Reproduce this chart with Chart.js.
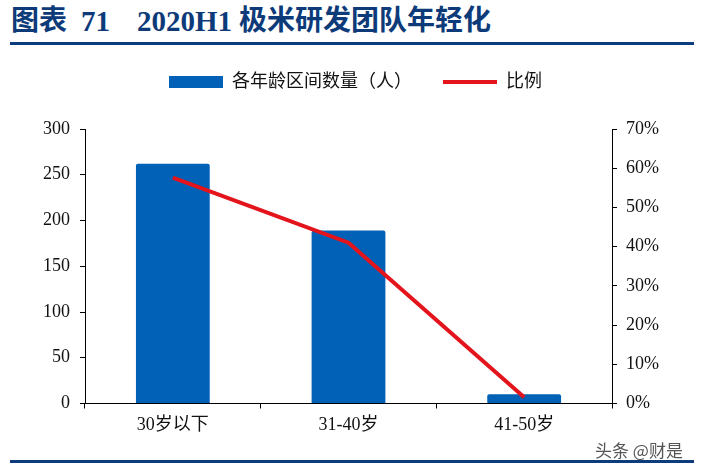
<!DOCTYPE html>
<html>
<head>
<meta charset="utf-8">
<script src="https://cdn.jsdelivr.net/npm/chart.js@4/dist/chart.umd.min.js"></script>
<style>
  html, body { margin: 0; padding: 0; background: #fff; }
  body { width: 701px; height: 471px; position: relative; overflow: hidden; }
  .title { position: absolute; top: 6px; font: bold 29px/30px "Liberation Serif", "Noto Sans CJK SC", serif; color: #0d3b7a; white-space: pre; }
  .cjk { font-size: 28px; }
  .rule { position: absolute; left: 10px; width: 684px; height: 3px; background: #0b3d7e; }
  #wrap { position: absolute; left: 0; top: 0; width: 701px; height: 471px; }
  .wm { position: absolute; left: 595px; top: 437px; font: 17px "Noto Sans CJK SC", sans-serif; color: #555; }
</style>
</head>
<body>
<div class="title cjk" style="left:11px">图表</div>
<div class="title" style="left:81px">71</div>
<div class="title" style="left:137px">2020H1</div>
<div class="title cjk" style="left:239px">极米研发团队年轻化</div>
<div class="rule" style="top:42px"></div>
<div id="wrap"><canvas id="c"></canvas></div>
<div class="rule" style="top:460px"></div>
<div class="wm">头条 @财是</div>
<script>
const categories = ["30岁以下", "31-40岁", "41-50岁"];
const headcount = [262, 189, 10];
const ratio = [57.6, 41.0, 1.6];
const leftTicks = [0, 50, 100, 150, 200, 250, 300];
const rightTicks = [0, 10, 20, 30, 40, 50, 60, 70];
const barLabel = "各年龄区间数量（人）";
const lineLabel = "比例";

const FONT = "'Liberation Serif', 'Noto Sans CJK SC', serif";
const BLUE = "#0061b7";
const RED = "#e3141c";

// extra gap between the legend row and the plot area
const legendGap = {
  id: "legendGap",
  beforeLayout(chart) {
    const lg = chart.legend;
    if (lg && !lg._gapPatched) {
      const orig = lg.fit;
      lg.fit = function () { orig.apply(this, arguments); this.height += 28; };
      lg._gapPatched = true;
    }
  }
};

new Chart(document.getElementById("c"), {
  data: {
    labels: categories,
    datasets: [
      { type: "bar", label: barLabel, data: headcount, backgroundColor: BLUE, borderRadius: 2,
        yAxisID: "y", order: 2, categoryPercentage: 1, barPercentage: 0.42 },
      { type: "line", label: lineLabel, data: ratio, borderColor: RED, borderWidth: 4,
        pointRadius: 0, yAxisID: "y1", order: 1, tension: 0 }
    ]
  },
  plugins: [legendGap],
  options: {
    responsive: true,
    maintainAspectRatio: false,
    animation: false,
    layout: { padding: { top: 42, left: 10, right: 0, bottom: 0 } },
    plugins: {
      tooltip: { enabled: false },
      legend: {
        position: "top",
        labels: {
          color: "#111",
          font: { family: FONT, size: 18 },
          usePointStyle: true,
          pointStyleWidth: 54,
          boxHeight: 12,
          padding: 31,
          generateLabels: (chart) => chart.data.datasets.map((ds, i) => ({
            text: ds.label,
            fillStyle: ds.type === "bar" ? BLUE : RED,
            strokeStyle: ds.type === "bar" ? BLUE : RED,
            lineWidth: ds.type === "bar" ? 0 : 4,
            pointStyle: ds.type === "bar" ? "rect" : "line",
            hidden: false,
            datasetIndex: i,
            fontColor: "#111"
          }))
        }
      }
    },
    scales: {
      x: {
        offset: true,
        grid: { display: true, offset: true, drawOnChartArea: false, drawTicks: true, tickLength: 5, color: "#000", lineWidth: 1 },
        border: { display: true, color: "#000", width: 1 },
        ticks: { color: "#111", font: { family: FONT, size: 18 }, padding: 6, maxRotation: 0 },
        afterFit: (s) => { s.height = 67.5; }
      },
      y: {
        position: "left",
        min: 0, max: 300,
        afterBuildTicks: (s) => { s.ticks = leftTicks.map(v => ({ value: v })); },
        grid: { drawOnChartArea: false, drawTicks: true, tickLength: 5, color: "#000" },
        border: { display: true, color: "#000", width: 1 },
        ticks: { color: "#111", font: { family: FONT, size: 18 }, padding: 10 },
        afterFit: (s) => { s.width = 75; }
      },
      y1: {
        position: "right",
        min: 0, max: 70,
        afterBuildTicks: (s) => { s.ticks = rightTicks.map(v => ({ value: v })); },
        grid: { drawOnChartArea: false, drawTicks: true, tickLength: 5, color: "#000" },
        border: { display: true, color: "#000", width: 1 },
        ticks: { color: "#111", font: { family: FONT, size: 18 }, padding: 9, callback: (v) => v + "%" },
        afterFit: (s) => { s.width = 89; }
      }
    }
  }
});
</script>
</body>
</html>
